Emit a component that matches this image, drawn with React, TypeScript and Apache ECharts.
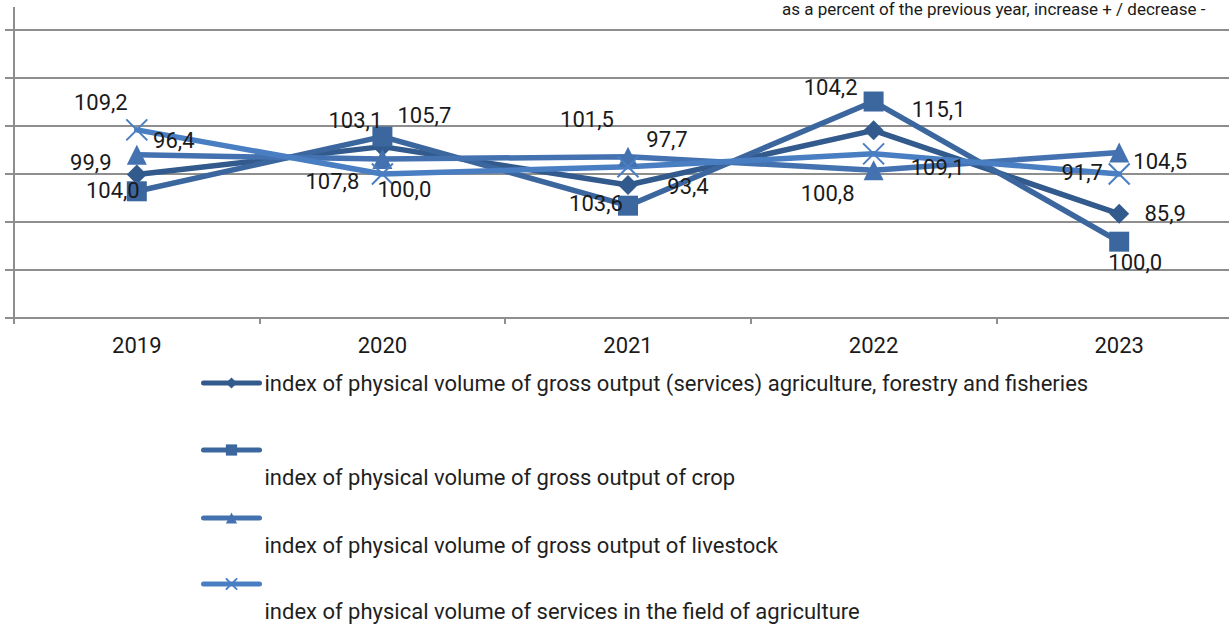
import React, { useEffect, useRef } from "react";
import * as echarts from "echarts";

const years = ["2019", "2020", "2021", "2022", "2023"];

const seriesNames = [
  "index of physical volume of gross output (services) agriculture, forestry and fisheries",
  "index of physical volume of gross output of crop",
  "index of physical volume of gross output of livestock",
  "index of physical volume of services in the field of agriculture",
];

const totalIndex = [99.9, 105.7, 97.7, 109.1, 91.7];
const cropIndex = [96.4, 107.8, 93.4, 115.1, 85.9];
const livestockIndex = [104.0, 103.1, 103.6, 100.8, 104.5];
const servicesIndex = [109.2, 100.0, 101.5, 104.2, 100.0];

const subtitle = "as a percent of the previous year, increase + / decrease -";

// label placement (pixel offsets from each point), as in the source chart
const totalLabelOffsets = [[-46, -12], [42, -31], [39, -46], [64, 37], [-37, -41]];
const cropLabelOffsets = [[37, -51], [-50, 45], [60, -19], [65, 8], [46, -28]];
const livestockLabelOffsets = [[-24, 36], [-27, -39], [-32, 47], [-46, 23], [41, 9]];
const servicesLabelOffsets = [[-36, -27], [22, 15], [-41, -47], [-43, -66], [16, 88]];

const FONT = "Roboto";
const GRID_GRAY = "#8e8e8e";

function fmt(v: number) {
  return v.toFixed(1).replace(".", ",");
}

export default function App() {
  const ref = useRef<HTMLDivElement>(null);

  useEffect(() => {
    if (!ref.current) return;
    const chart = echarts.init(ref.current, undefined, { renderer: "svg" });

    const mk = (
      name: string,
      values: number[],
      offsets: number[][],
      color: string,
      symbol: string,
      symbolSize: number,
      extraItem: any = {}
    ) => ({
      name,
      type: "line",
      data: values.map((v, i) => ({
        value: v,
        label: { offset: offsets[i] },
      })),
      symbol,
      symbolSize,
      lineStyle: { color, width: 5.5, cap: "round", join: "round" },
      itemStyle: { color, ...extraItem },
      label: {
        show: true,
        position: "inside",
        formatter: (p: any) => fmt(p.value),
        color: "#1a1a1a",
        fontSize: 22,
        fontFamily: FONT,
      },
      emphasis: { disabled: true },
    });

    const legendBase = {
      orient: "vertical",
      left: 201,
      padding: 0,
      itemWidth: 56,
      itemHeight: 14,
      selectedMode: false,
      lineStyle: { width: 5, cap: "round" },
    };

    const legendText = {
      color: "#1f1f1f",
      fontSize: 22,
      fontFamily: FONT,
      lineHeight: 22,
    };

    const wrapped = {
      formatter: "\n{name}",
      textStyle: { ...legendText, lineHeight: 54 },
    };

    chart.setOption({
      animation: false,
      backgroundColor: "#ffffff",
      grid: {
        left: 14,
        width: 1228,
        top: 30,
        bottom: 310,
        containLabel: false,
        outerBoundsMode: "none",
      },
      xAxis: {
        type: "category",
        data: years,
        boundaryGap: true,
        axisLine: { show: true, lineStyle: { color: GRID_GRAY, width: 2 } },
        axisTick: { show: true, length: 6, lineStyle: { color: GRID_GRAY, width: 2 } },
        axisLabel: {
          color: "#1a1a1a",
          fontSize: 22,
          fontFamily: FONT,
          lineHeight: 22,
          margin: 16,
        },
        splitLine: { show: false },
      },
      yAxis: {
        type: "value",
        min: 70,
        max: 130,
        interval: 10,
        axisLine: { show: true, lineStyle: { color: GRID_GRAY, width: 2 } },
        axisTick: { show: true, length: 9, lineStyle: { color: GRID_GRAY, width: 2 } },
        axisLabel: { show: false },
        splitLine: { show: true, lineStyle: { color: GRID_GRAY, width: 2 } },
      },
      legend: [
        {
          ...legendBase,
          top: 372,
          data: [seriesNames[0]],
          textStyle: { ...legendText },
        },
        { ...legendBase, ...wrapped, top: 396, data: [seriesNames[1]] },
        { ...legendBase, ...wrapped, top: 464, data: [seriesNames[2]] },
        { ...legendBase, ...wrapped, top: 530, data: [seriesNames[3]] },
      ],
      graphic: [
        {
          type: "line",
          shape: { x1: 14, y1: 7, x2: 14, y2: 30 },
          style: { stroke: GRID_GRAY, lineWidth: 2 },
          silent: true,
        },
        {
          type: "text",
          left: 782,
          top: 0,
          style: {
            text: subtitle,
            fill: "#1a1a1a",
            fontSize: 17,
            fontFamily: FONT,
          },
          silent: true,
        },
      ],
      series: [
        mk(seriesNames[0], totalIndex, totalLabelOffsets, "#325a8c", "diamond", 20),
        mk(seriesNames[1], cropIndex, cropLabelOffsets, "#3b669e", "rect", 20),
        mk(seriesNames[2], livestockIndex, livestockLabelOffsets, "#4472b0", "triangle", 20),
        mk(
          seriesNames[3],
          servicesIndex,
          servicesLabelOffsets,
          "#4a7ec2",
          "path://M0,0L20,20M20,0L0,20",
          21,
          { borderColor: "#4a7ec2", borderWidth: 2 }
        ),
      ],
    });

    return () => chart.dispose();
  }, []);

  return (
    <div
      ref={ref}
      style={{ position: "fixed", left: 0, top: 0, width: 1229, height: 628, background: "#fff" }}
    />
  );
}
